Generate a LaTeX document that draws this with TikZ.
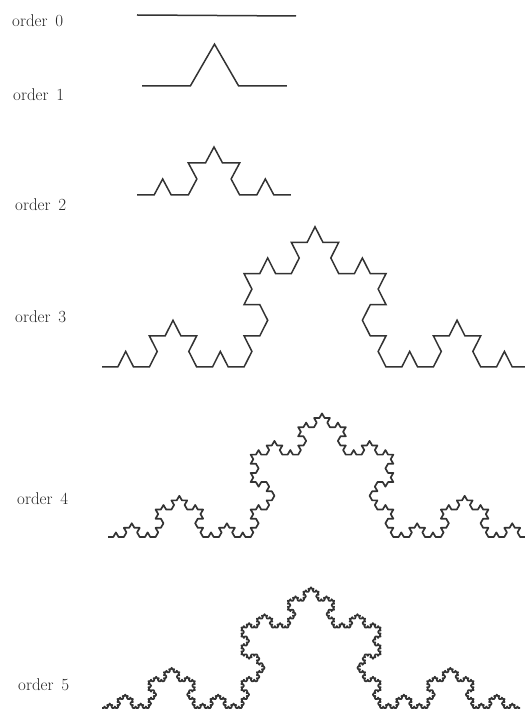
\documentclass[tikz,border=0pt]{standalone}
\usetikzlibrary{lindenmayersystems}
\begin{document}
\begin{tikzpicture}[x=1pt,y=1pt,
  lbl/.style={anchor=base west,inner sep=0pt,text=black!85,font=\fontsize{17}{19}\selectfont},
  koch/.style={draw=black!80,line width=1.5pt,line join=miter},
  kochfine/.style={draw=black!80,line width=1.7pt,line join=round}]
\useasboundingbox (0,0) rectangle (525,716);
\clip (0,0) rectangle (525,716);
\pgfdeclarelindenmayersystem{Koch}{\rule{F -> F+F--F+F}}
% labels
\node[lbl] (l0) at (12,689) {order\hspace{0.45em}0};
\node[lbl] (l1) at (13,615) {order\hspace{0.45em}1};
\node[lbl] (l2) at (15,505) {order\hspace{0.45em}2};
\node[lbl] (l3) at (15,393) {order\hspace{0.45em}3};
\node[lbl] (l4) at (17,211) {order\hspace{0.45em}4};
\node[lbl] (l5) at (18,25) {order\hspace{0.45em}5};
% order 0
\coordinate (a0) at (137,701);
\coordinate (b0) at (296,700);
\draw[koch] (a0) -- (b0);
% order 1
\draw[koch,shift={(142,630)},l-system={Koch,axiom=F,order=1,angle=60,step=48.33pt}] (0,0) lindenmayer system;
% order 2
\draw[koch,shift={(137,521)},yscale=1.08,l-system={Koch,axiom=F,order=2,angle=60,step=17.11pt}] (0,0) lindenmayer system;
% order 3
\draw[koch,shift={(102,349)},yscale=1.14,l-system={Koch,axiom=F,order=3,angle=60,step=15.78pt}] (0,0) lindenmayer system;
% order 4
\draw[kochfine,shift={(108,179)},l-system={Koch,axiom=F,order=4,angle=60,step=5.284pt}] (0,0) lindenmayer system;
% order 5
\draw[kochfine,shift={(102,8)},l-system={Koch,axiom=F,order=5,angle=60,step=1.7202pt}] (0,0) lindenmayer system;
\end{tikzpicture}
\end{document}
